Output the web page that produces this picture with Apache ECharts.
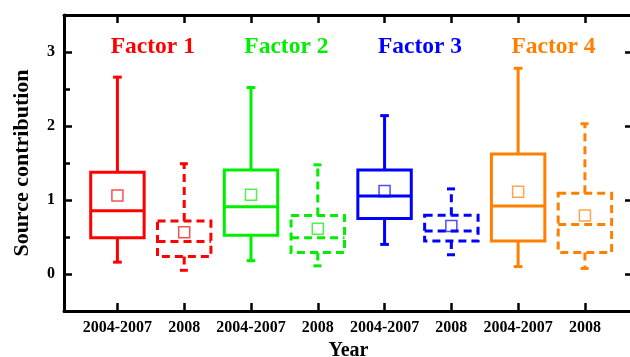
<!DOCTYPE html>
<html>
<head>
<meta charset="utf-8">
<script src="https://cdn.jsdelivr.net/npm/echarts@6/dist/echarts.min.js"></script>
<style>
  html, body { margin: 0; padding: 0; background: #fff; }
  #chart { width: 630px; height: 357px; }
</style>
</head>
<body>
<div id="chart"></div>
<script>
// Box-plot summary of source contributions per factor and period
const categories = ['2004-2007', '2008', '2004-2007', '2008', '2004-2007', '2008', '2004-2007', '2008'];
const factorNames = ['Factor 1', 'Factor 2', 'Factor 3', 'Factor 4'];

// Five-number summaries and means, one entry per box
const whiskerLow  = [0.16, 0.05, 0.18, 0.11, 0.40, 0.26, 0.10, 0.075];
const quartile1   = [0.49, 0.235, 0.525, 0.29, 0.75, 0.445, 0.445, 0.29];
const medians     = [0.855, 0.44, 0.91, 0.49, 1.055, 0.58, 0.92, 0.67];
const quartile3   = [1.375, 0.715, 1.405, 0.79, 1.405, 0.795, 1.62, 1.09];
const whiskerHigh = [2.66, 1.49, 2.52, 1.475, 2.14, 1.15, 2.78, 2.03];
const means       = [1.06, 0.565, 1.07, 0.61, 1.12, 0.65, 1.11, 0.79];

const yMajorTicks = [0, 1, 2, 3];
const yMinorTicks = [0.5, 1.5, 2.5];

const palette = ['#ff0000', '#00ee00', '#0000ff', '#ff8000'];
const serif = "'Liberation Serif', 'Times New Roman', serif";

const positions = categories.map((_, i) => i + 1);
const boxData = positions.map((x, i) => [x, whiskerLow[i], quartile1[i], medians[i], quartile3[i], whiskerHigh[i], means[i]]);
const titleData = factorNames.map((name, k) => [2 * k + 1.53, 3.07, name]);

function renderBox(params, api) {
  const i = params.dataIndex;
  const color = palette[Math.floor(i / 2)];
  const dashed = categories[i] === '2008';
  const x = api.value(0);
  const cx = api.coord([x, 0])[0];
  const left = api.coord([x - 0.4, 0])[0];
  const right = api.coord([x + 0.4, 0])[0];
  const y = v => api.coord([x, v])[1];
  const yLo = y(api.value(1)), yQ1 = y(api.value(2)), yMed = y(api.value(3));
  const yQ3 = y(api.value(4)), yHi = y(api.value(5)), yMean = y(api.value(6));
  const cap = api.size([0.065, 0])[0];
  const half = api.size([0.165, 0])[0] / 2;
  const line = {
    stroke: color, lineWidth: 3, fill: null,
    lineDash: dashed ? [8, 5] : null
  };
  const seg = (x1, y1, x2, y2) => ({ type: 'line', shape: { x1, y1, x2, y2 }, style: line });
  return {
    type: 'group',
    children: [
      seg(cx, yQ3, cx, yHi),
      seg(cx - cap, yHi, cx + cap, yHi),
      seg(cx, yQ1, cx, yLo),
      seg(cx - cap, yLo, cx + cap, yLo),
      { type: 'rect', shape: { x: left, y: yQ3, width: right - left, height: yQ1 - yQ3 }, style: line },
      seg(left, yMed, right, yMed),
      {
        type: 'rect',
        shape: { x: cx - half, y: yMean - half, width: half * 2, height: half * 2 },
        style: { stroke: color, lineWidth: 1.5, fill: null, opacity: 0.7 }
      }
    ]
  };
}

function renderTitle(params, api) {
  const k = params.dataIndex;
  const p = api.coord([api.value(0), api.value(1)]);
  return {
    type: 'text',
    x: p[0], y: p[1],
    style: {
      text: titleData[k][2],
      fill: palette[k],
      font: 'bold 23.5px ' + serif,
      align: 'center',
      verticalAlign: 'middle'
    }
  };
}

const axisLineStyle = { color: '#000', width: 3 };
const tickStyle = { color: '#000', width: 2.5 };
const labelStyle = { color: '#000', fontWeight: 'bold', fontSize: 16, fontFamily: serif };

const chart = echarts.init(document.getElementById('chart'), null, { renderer: 'canvas' });
chart.setOption({
  animation: false,
  backgroundColor: '#fff',
  grid: { left: 64, top: 15, width: 569, height: 296, containLabel: false, outerBoundsMode: 'none' },
  xAxis: [
    {
      type: 'value', position: 'bottom', min: 0.2, max: 8.72,
      axisLine: { show: true, onZero: false, lineStyle: axisLineStyle },
      axisTick: { show: true, inside: true, length: 8, lineStyle: tickStyle, customValues: positions },
      axisLabel: {
        show: true, margin: 9, ...labelStyle, customValues: positions,
        formatter: v => categories[Math.round(v) - 1] || ''
      },
      splitLine: { show: false },
      name: 'Year', nameLocation: 'middle', nameGap: 28,
      nameTextStyle: { color: '#000', fontWeight: 'bold', fontSize: 20, fontFamily: serif }
    },
    {
      type: 'value', position: 'top', min: 0.2, max: 8.72,
      axisLine: { show: true, onZero: false, lineStyle: axisLineStyle },
      axisTick: { show: true, inside: true, length: 8, lineStyle: tickStyle, customValues: positions },
      axisLabel: { show: false },
      splitLine: { show: false }
    }
  ],
  yAxis: [
    {
      type: 'value', position: 'left', min: -0.5, max: 3.5,
      axisLine: { show: true, onZero: false, lineStyle: axisLineStyle },
      axisTick: { show: true, inside: true, length: 8, lineStyle: tickStyle, customValues: yMajorTicks },
      axisLabel: { show: true, margin: 9, ...labelStyle, customValues: yMajorTicks },
      splitLine: { show: false },
      name: 'Source contribution', nameLocation: 'middle', nameGap: 31,
      nameTextStyle: { color: '#000', fontWeight: 'bold', fontSize: 22, fontFamily: serif }
    },
    {
      type: 'value', position: 'left', min: -0.5, max: 3.5,
      axisLine: { show: false },
      axisTick: { show: true, inside: true, length: 6, lineStyle: tickStyle, customValues: yMinorTicks },
      axisLabel: { show: false },
      splitLine: { show: false }
    },
    {
      type: 'value', position: 'right', min: -0.5, max: 3.5,
      axisLine: { show: true, onZero: false, lineStyle: axisLineStyle },
      axisTick: { show: true, inside: true, length: 8, lineStyle: tickStyle, customValues: yMajorTicks },
      axisLabel: { show: false },
      splitLine: { show: false }
    }
  ],
  series: [
    {
      type: 'custom', name: 'boxes', xAxisIndex: 0, yAxisIndex: 0,
      renderItem: renderBox, data: boxData, clip: false,
      encode: { x: 0, y: [1, 2, 3, 4, 5, 6] }
    },
    {
      type: 'custom', name: 'titles', xAxisIndex: 0, yAxisIndex: 0,
      renderItem: renderTitle, data: titleData.map(d => [d[0], d[1]]), clip: false,
      encode: { x: 0, y: 1 }
    }
  ]
});
</script>
</body>
</html>
